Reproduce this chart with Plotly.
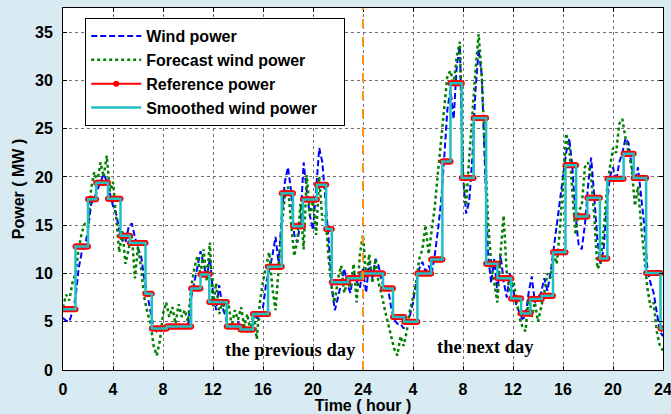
import plotly.graph_objects as go

# Two days at 15-minute resolution: 0 .. 48 h
hours = [i * 0.25 for i in range(193)]

# Measured wind power (MW)
wind_power = [
    5.4, 5.1, 5.0, 6.0,
    7.5, 10.5, 12.2, 12.8,
    14.5, 17.2, 17.8, 18.6,
    19.5, 20.3, 19.6, 18.2,
    17.0, 16.2, 14.5, 13.4,
    13.2, 14.8, 15.2, 13.8,
    12.6, 11.8, 9.5, 7.8,
    6.0, 4.4, 4.0, 4.2,
    4.5, 4.3, 4.6, 4.4,
    4.5, 4.7, 4.4, 4.6,
    4.5, 7.5, 9.0, 10.5,
    12.3, 11.0, 9.5, 11.6,
    8.0, 6.2, 8.8, 6.5,
    5.6, 4.3, 4.8, 4.5,
    5.0, 4.2, 4.6, 4.0,
    4.5, 4.8, 5.5, 5.2,
    6.5, 9.0, 10.5, 11.8,
    13.8, 11.0, 16.0, 19.5,
    21.0, 18.5, 14.0, 13.2,
    15.5, 21.5, 18.5, 16.0,
    14.5, 19.0, 23.0, 21.5,
    17.5, 13.5, 8.5, 6.2,
    7.5, 9.2, 10.5, 8.8,
    8.0, 10.2, 9.2, 8.5,
    10.5, 8.0, 11.2, 9.5,
    11.5, 10.8, 9.2, 8.3,
    8.5, 6.5, 5.2, 4.8,
    4.8, 4.3, 5.0, 5.6,
    7.0, 9.0, 10.5, 11.2,
    10.2, 10.8, 10.0, 12.0,
    14.5, 17.5, 22.0, 27.0,
    29.0, 26.0, 31.5, 33.5,
    20.0, 16.2, 17.5, 22.0,
    29.0, 33.2, 30.5, 20.0,
    12.0, 9.0, 11.5, 8.0,
    12.0, 9.2, 7.5, 10.0,
    8.5, 6.8, 6.0, 5.3,
    5.5, 8.0, 9.7, 7.0,
    7.5, 8.0, 9.5, 8.2,
    10.0, 12.5, 15.0, 17.5,
    20.0, 22.5, 24.0, 21.0,
    16.0, 13.0, 12.5, 15.0,
    19.0, 22.0, 18.0, 13.5,
    11.0, 12.5, 17.0, 20.0,
    21.0, 19.5, 21.5, 22.5,
    24.0, 23.5, 21.0, 19.5,
    21.0, 18.0, 15.0, 10.5,
    9.0, 8.0, 6.0, 4.0,
    3.5,
]

# Forecast wind power (MW)
forecast_power = [
    6.5, 7.8, 7.2, 9.0,
    10.0, 12.5, 14.2, 15.2,
    14.8, 18.8, 20.5, 19.5,
    21.5, 20.0, 22.2, 18.5,
    19.5, 15.5, 12.2, 14.5,
    11.0, 12.5, 14.2, 9.5,
    12.8, 10.5, 7.5, 6.0,
    4.8, 2.5, 1.5, 3.0,
    5.8, 7.0, 5.5, 6.5,
    4.8, 6.8, 5.5, 6.2,
    5.0, 8.5, 10.5, 11.8,
    9.8, 12.5, 9.2, 13.2,
    6.5, 9.0, 5.8, 7.2,
    6.0, 6.8, 4.5, 6.2,
    5.2, 6.5, 4.5, 5.8,
    3.8, 6.0, 3.2, 7.0,
    9.2, 10.8, 12.2, 8.5,
    6.2, 10.5, 14.8, 18.0,
    19.0, 15.2, 11.8, 13.5,
    17.2, 12.5, 20.2, 16.0,
    17.5, 14.0, 20.0, 15.5,
    16.0, 11.5, 8.5, 7.0,
    9.5, 10.8, 8.0, 9.2,
    8.5, 11.0, 7.0, 12.0,
    14.0, 9.5, 12.0, 9.0,
    11.5, 9.0, 7.8, 6.2,
    5.0, 3.5, 2.2, 1.5,
    3.5, 2.5, 4.0, 6.2,
    7.5, 9.0, 11.5, 12.5,
    15.0, 12.0, 14.5, 17.0,
    20.5, 24.0, 27.5, 30.5,
    31.0, 29.5, 32.5, 34.0,
    20.5, 17.0, 22.0, 27.0,
    31.0, 34.8, 30.5, 23.0,
    15.5, 11.0, 9.0, 7.0,
    12.0, 16.0, 10.0, 8.0,
    9.5, 7.5, 5.5, 4.5,
    4.0, 7.5, 5.5, 7.0,
    5.0, 6.5, 8.0, 10.0,
    9.5, 12.0, 11.0, 14.5,
    19.0, 24.5, 23.0, 18.5,
    14.0, 16.5, 17.0, 21.0,
    21.5, 20.0, 16.0, 10.5,
    11.0, 14.5, 18.5, 21.0,
    23.0, 22.5, 25.5, 26.0,
    24.0, 22.5, 21.0, 17.0,
    19.0, 15.0, 11.5, 8.5,
    6.5, 7.0, 4.0, 2.5,
    2.0,
]

# Reference power schedule: start hour of each block and its level (MW)
ref_start = [
    0.0, 1.0, 2.0, 2.65, 3.6, 4.6, 5.35, 6.6, 7.1, 8.3,
    10.25, 11.0, 11.7, 13.1, 14.2, 15.2, 16.4, 17.5, 18.4, 19.2,
    20.3, 21.05, 21.5, 22.8, 23.9, 25.6, 26.4, 27.3, 28.35, 29.45,
    30.35, 31.0, 31.9, 32.85, 33.85, 34.75, 35.85, 36.65, 37.4, 38.3,
    39.2, 40.2, 41.05, 41.95, 42.95, 43.55, 44.85, 45.65, 46.65, 47.8,
]
ref_level = [
    6.3, 12.8, 17.7, 19.4, 17.75, 13.9, 13.15, 7.9, 4.3, 4.5,
    8.45, 9.9, 7.05, 4.5, 4.2, 5.8, 10.7, 18.3, 14.9, 17.65,
    19.2, 14.6, 9.1, 9.5, 10.0, 8.45, 5.5, 5.0, 10.0, 11.45,
    21.6, 29.7, 19.9, 26.1, 11.0, 9.5, 7.4, 5.85, 7.35, 7.7,
    12.2, 21.2, 15.9, 17.85, 11.55, 19.8, 22.4, 19.9, 10.05, 4.3,
]
END_HOUR = 48.0

x_tick_vals = list(range(0, 49, 4))
x_tick_text = ["0", "4", "8", "12", "16", "20", "24", "4", "8", "12", "16", "20", "24"]

# Reference power drawn as densely marked horizontal blocks
ref_x, ref_y = [], []
ends = ref_start[1:] + [END_HOUR]
for s, e, v in zip(ref_start, ends, ref_level):
    n = max(1, int(round((e - s) * 12)))
    for k in range(n + 1):
        ref_x.append(s + (e - s) * k / n)
        ref_y.append(v)
    ref_x.append(None)
    ref_y.append(None)

# Smoothed wind power follows the reference blocks as a stair line
smooth_x = ref_start + [END_HOUR]
smooth_y = ref_level + [ref_level[-1]]

BOLD = "Liberation Sans"
PAD = "&nbsp;" * 5  # extra room at the right of the legend box

fig = go.Figure()
fig.add_trace(go.Scatter(
    x=hours, y=wind_power, mode="lines", name="Wind power",
    legendgroup="a",
    line=dict(color="#0000ff", width=2, dash="6px,3px"),
))
fig.add_trace(go.Scatter(
    x=hours, y=forecast_power, mode="lines", name="Forecast wind power",
    legendgroup="b",
    line=dict(color="#008000", width=2.5, dash="dot"),
))
fig.add_trace(go.Scatter(
    x=ref_x, y=ref_y, mode="lines+markers", name="Reference power",
    legendgroup="c",
    line=dict(color="#ff0000", width=2),
    marker=dict(color="#ff0000", size=6),
))
fig.add_trace(go.Scatter(
    x=smooth_x, y=smooth_y, mode="lines", name="Smoothed wind power" + PAD,
    legendgroup="d",
    line=dict(color="#1fbfc4", width=2.5, shape="hv"),
))

# Day boundary
fig.add_shape(type="line", x0=24, x1=24, y0=0, y1=1, xref="x", yref="paper",
              line=dict(color="#ff9010", width=2, dash="dash"), layer="above")

fig.add_annotation(x=18.2, y=2.05, text="the previous day", showarrow=False,
                   font=dict(family="Liberation Serif", size=18.5, color="black", weight="bold"))
fig.add_annotation(x=33.8, y=2.4, text="the next day", showarrow=False,
                   font=dict(family="Liberation Serif", size=18.5, color="black", weight="bold"))

axis_common = dict(
    showline=True, linecolor="black", linewidth=1, mirror="ticks",
    ticks="inside", ticklen=4, tickcolor="black",
    showgrid=True, gridcolor="#6f6f6f", gridwidth=1, griddash="dot",
    zeroline=False, automargin=False, ticklabeloverflow="allow",
    tickfont=dict(family=BOLD, size=16, color="black", weight="bold"),
)

fig.update_layout(
    width=671, height=414,
    margin=dict(l=63, r=8, t=8, b=44),
    paper_bgcolor="#d8ebf2",
    plot_bgcolor="white",
    showlegend=True,
    legend=dict(
        x=0.037, y=0.972, xanchor="left", yanchor="top",
        bgcolor="white", bordercolor="black", borderwidth=1,
        font=dict(family=BOLD, size=16, color="black", weight="bold"),
        itemwidth=50, tracegroupgap=6, traceorder="normal",
    ),
    xaxis=dict(
        range=[0, 48], tickvals=x_tick_vals, ticktext=x_tick_text,
        ticklabelstandoff=5,
        title=dict(text="Time ( hour )", standoff=5,
                   font=dict(family=BOLD, size=16, color="black", weight="bold")),
        **axis_common,
    ),
    yaxis=dict(
        range=[0, 37.5], tickvals=[0, 5, 10, 15, 20, 25, 30, 35],
        ticklabelstandoff=6,
        title=dict(text="Power ( MW )", standoff=6,
                   font=dict(family=BOLD, size=16, color="black", weight="bold")),
        **axis_common,
    ),
)

fig.write_html("out.html")
